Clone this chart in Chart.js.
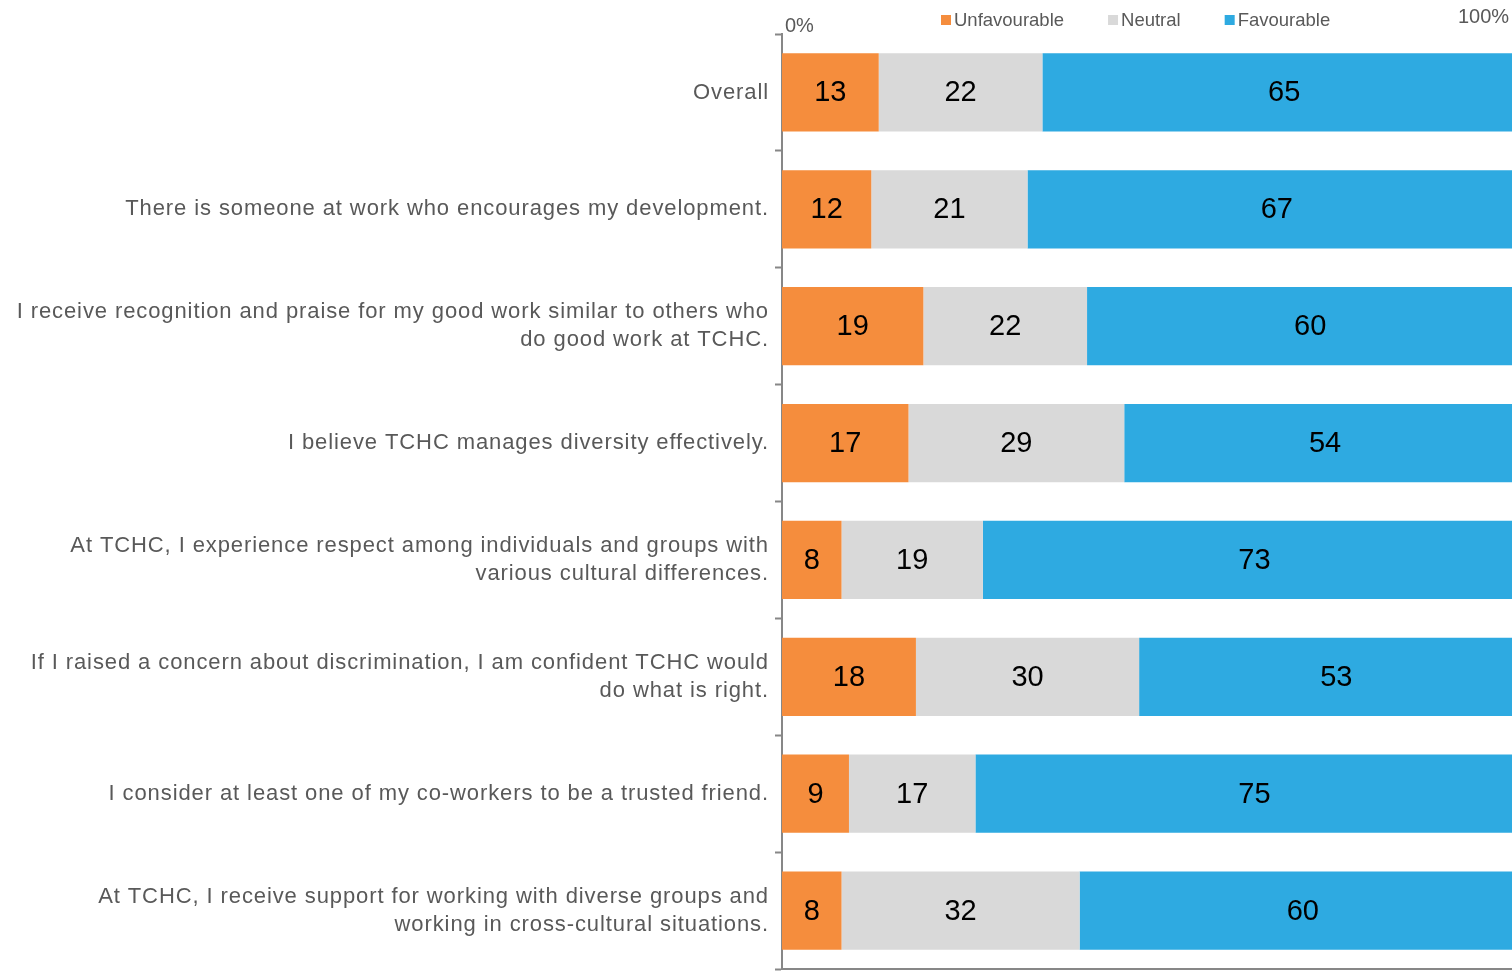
<!DOCTYPE html>
<html>
<head>
<meta charset="utf-8">
<script src="https://cdn.jsdelivr.net/npm/chart.js@4"></script>
<style>
  html, body { margin: 0; padding: 0; background: #fff; overflow: hidden; }
  #wrap { width: 1512px; height: 971px; overflow: hidden; }
</style>
</head>
<body>
<div id="wrap"><canvas id="survey-chart" width="1540" height="971"></canvas></div>
<script>
const questions = [
  'Overall',
  'There is someone at work who encourages my development.',
  ['I receive recognition and praise for my good work similar to others who', 'do good work at TCHC.'],
  'I believe TCHC manages diversity effectively.',
  ['At TCHC, I experience respect among individuals and groups with', 'various cultural differences.'],
  ['If I raised a concern about discrimination, I am confident TCHC would', 'do what is right.'],
  'I consider at least one of my co-workers to be a trusted friend.',
  ['At TCHC, I receive support for working with diverse groups and', 'working in cross-cultural situations.']
];

const unfavourable = [13, 12, 19, 17, 8, 18, 9, 8];
const neutral = [22, 21, 22, 29, 19, 30, 17, 32];
const favourable = [65, 67, 60, 54, 73, 53, 75, 60];

const seriesNames = ['Unfavourable', 'Neutral', 'Favourable'];
const seriesColors = ['#F58D3D', '#D9D9D9', '#2EAAE1'];
const axisLabels = ['0%', '100%'];

const FONT = '"Liberation Sans", Arial, sans-serif';
const TEXT_GREY = '#595959';
const AXIS_GREY = '#878787';

// question labels are drawn slightly letter-spaced, everything else normal
const labelSpacing = {
  id: 'labelSpacing',
  beforeDraw(chart) { chart.ctx.letterSpacing = '0.9px'; },
  beforeDatasetsDraw(chart) { chart.ctx.letterSpacing = '0px'; }
};

// numbers in the middle of each bar segment
const barValues = {
  id: 'barValues',
  afterDatasetsDraw(chart) {
    const ctx = chart.ctx;
    ctx.save();
    ctx.letterSpacing = '0px';
    ctx.font = '29px ' + FONT;
    ctx.fillStyle = '#000';
    ctx.textAlign = 'center';
    ctx.textBaseline = 'middle';
    chart.data.datasets.forEach((ds, i) => {
      chart.getDatasetMeta(i).data.forEach((bar, j) => {
        const x = (bar.x + bar.base) / 2;
        ctx.fillText(ds.data[j], x, bar.y + 1);
      });
    });
    ctx.restore();
  }
};

// legend row and the 0% / 100% markers above the plot
const topLabels = {
  id: 'topLabels',
  afterDraw(chart) {
    const ctx = chart.ctx;
    const area = chart.chartArea;
    ctx.save();
    ctx.letterSpacing = '0px';
    ctx.textBaseline = 'middle';
    ctx.fillStyle = TEXT_GREY;

    ctx.font = '20px ' + FONT;
    ctx.textAlign = 'left';
    ctx.fillText(axisLabels[0], area.left + 3, 26);
    ctx.fillText(axisLabels[1], 1458, 17);

    ctx.font = '18.5px ' + FONT;
    let x = 941;
    chart.data.datasets.forEach(ds => {
      ctx.fillStyle = ds.backgroundColor;
      ctx.fillRect(x, 15, 10, 10);
      ctx.fillStyle = TEXT_GREY;
      ctx.fillText(ds.label, x + 13, 21);
      x += 13 + ctx.measureText(ds.label).width + 44;
    });
    ctx.restore();
  }
};

const ctx = document.getElementById('survey-chart').getContext('2d');
const chart = new Chart(ctx, {
  type: 'bar',
  data: {
    labels: questions,
    datasets: [unfavourable, neutral, favourable].map((vals, i) => ({
      label: seriesNames[i],
      data: vals,
      backgroundColor: seriesColors[i],
      borderWidth: 0,
      barPercentage: 0.67,
      categoryPercentage: 1
    }))
  },
  options: {
    indexAxis: 'y',
    responsive: false,
    animation: false,
    layout: { padding: { top: 34, right: 14, bottom: 2, left: 0 } },
    scales: {
      x: {
        stacked: true,
        min: 0,
        max: 100,
        grid: { display: false },
        ticks: { display: false },
        border: { display: true, color: AXIS_GREY, width: 2 },
        afterFit(scale) { scale.height = 0; }
      },
      y: {
        stacked: true,
        grid: {
          offset: true,
          drawOnChartArea: false,
          drawTicks: true,
          tickLength: 7,
          tickWidth: 2,
          tickColor: AXIS_GREY
        },
        border: { display: true, color: AXIS_GREY, width: 2 },
        ticks: {
          color: TEXT_GREY,
          padding: 6,
          font: { family: FONT, size: 22, lineHeight: 1.27 }
        },
        afterFit(scale) {
          scale.width = 782;
          scale.paddingTop = 0;
          scale.paddingBottom = 0;
        }
      }
    },
    plugins: {
      legend: { display: false },
      tooltip: { enabled: false }
    }
  },
  plugins: [labelSpacing, barValues, topLabels]
});
</script>
</body>
</html>
